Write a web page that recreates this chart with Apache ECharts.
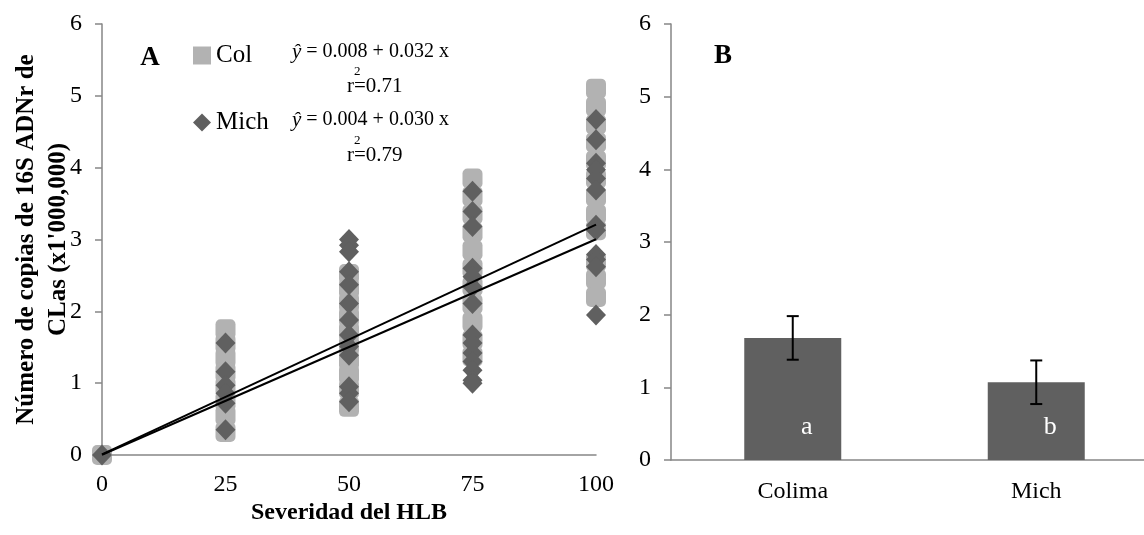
<!DOCTYPE html>
<html>
<head>
<meta charset="utf-8">
<script src="https://cdn.jsdelivr.net/npm/echarts@6/dist/echarts.min.js"></script>
<style>
html,body{margin:0;padding:0;background:#fff;}
#chart{width:1144px;height:535px;}
</style>
</head>
<body>
<div id="chart"></div>
<script>
// ---- Data ----
const severityTicks = [0, 25, 50, 75, 100];
// Colima samples: [severity, copies x1'000,000]
const colPoints = [
  [0, 0],
  [25, 1.75], [25, 1.55], [25, 1.35], [25, 1.15], [25, 0.95], [25, 0.75], [25, 0.55], [25, 0.32],
  [50, 2.52], [50, 2.32], [50, 2.12], [50, 1.92], [50, 1.72], [50, 1.52], [50, 1.32], [50, 1.12], [50, 0.92], [50, 0.67],
  [75, 3.85], [75, 3.60], [75, 3.35], [75, 3.10], [75, 2.85], [75, 2.60], [75, 2.35], [75, 2.10], [75, 1.85], [75, 1.60], [75, 1.37],
  [100, 5.10], [100, 4.85], [100, 4.60], [100, 4.35], [100, 4.10], [100, 3.85], [100, 3.60], [100, 3.35], [100, 3.13], [100, 2.69], [100, 2.45], [100, 2.20]
];
// Michoacán samples
const michPoints = [
  [0, 0],
  [25, 1.56], [25, 1.16], [25, 0.97], [25, 0.86], [25, 0.72], [25, 0.35],
  [50, 3.00], [50, 2.92], [50, 2.83], [50, 2.55], [50, 2.37], [50, 2.11], [50, 1.88], [50, 1.67], [50, 1.51], [50, 1.39], [50, 0.95], [50, 0.86], [50, 0.74],
  [75, 3.67], [75, 3.39], [75, 3.18], [75, 2.60], [75, 2.48], [75, 2.34], [75, 2.11], [75, 1.67], [75, 1.56], [75, 1.42], [75, 1.30], [75, 1.18], [75, 1.04], [75, 1.00],
  [100, 4.67], [100, 4.39], [100, 4.06], [100, 3.97], [100, 3.85], [100, 3.69], [100, 3.20], [100, 3.13], [100, 2.79], [100, 2.72], [100, 2.62], [100, 1.95]
];
// Fitted regression lines (endpoints of the printed equations)
const colFit = [[0, 0.008], [100, 3.208]];
const michFit = [[0, 0.004], [100, 3.004]];
const colEquation = ' = 0.008 + 0.032 x';
const michEquation = ' = 0.004 + 0.030 x';
const colR2 = '=0.71';
const michR2 = '=0.79';

// Panel B
const regions = ['Colima', 'Mich'];
const regionMeans = [1.68, 1.07];
const regionErrors = [0.30, 0.30];
const regionLetters = ['a', 'b'];

// ---- Styling ----
const FONT = '"Liberation Serif", "Times New Roman", serif';
const AXIS_COLOR = '#868686';
const COL_COLOR = '#b2b2b2';
const MICH_COLOR = '#606060';

const chart = echarts.init(document.getElementById('chart'), null, {renderer: 'canvas'});

const axisLine = {show: true, lineStyle: {color: AXIS_COLOR, width: 1.5}};
const tickLabel = {color: '#000', fontFamily: FONT, fontSize: 24};

const option = {
  backgroundColor: '#fff',
  animation: false,
  textStyle: {fontFamily: FONT},
  grid: [
    {left: 102, top: 24, width: 494, height: 431, containLabel: false, outerBoundsMode: 'none'},
    {left: 671, top: 24, width: 487, height: 436, containLabel: false, outerBoundsMode: 'none'}
  ],
  xAxis: [
    {
      gridIndex: 0, type: 'value', min: 0, max: 100, interval: 25,
      axisLine: axisLine, axisTick: {show: false}, splitLine: {show: false},
      axisLabel: Object.assign({margin: 18}, tickLabel),
      name: 'Severidad del HLB', nameLocation: 'middle', nameGap: 46, nameMoveOverlap: false,
      nameTextStyle: {color: '#000', fontFamily: FONT, fontSize: 24, fontWeight: 'bold'}
    },
    {
      gridIndex: 1, type: 'category', data: regions,
      axisLine: axisLine, axisTick: {show: false}, splitLine: {show: false},
      axisLabel: Object.assign({margin: 20}, tickLabel)
    }
  ],
  yAxis: [
    {
      gridIndex: 0, type: 'value', min: 0, max: 6, interval: 1,
      axisLine: axisLine,
      axisTick: {show: true, length: 7, lineStyle: {color: AXIS_COLOR, width: 1.5}},
      splitLine: {show: false},
      axisLabel: Object.assign({margin: 20}, tickLabel),
      name: 'Número de copias de 16S ADNr de\nCLas (x1\'000,000)',
      nameLocation: 'middle', nameGap: 27, nameMoveOverlap: false,
      nameTextStyle: {color: '#000', fontFamily: FONT, fontSize: 25, fontWeight: 'bold', lineHeight: 32}
    },
    {
      gridIndex: 1, type: 'value', min: 0, max: 6, interval: 1,
      axisLine: axisLine,
      axisTick: {show: true, length: 7, lineStyle: {color: AXIS_COLOR, width: 1.5}},
      splitLine: {show: false},
      axisLabel: Object.assign({margin: 20}, tickLabel)
    }
  ],
  legend: {
    orient: 'vertical', left: 188, top: 38,
    itemWidth: 18, itemHeight: 18, itemGap: 42,
    textStyle: {color: '#000', fontFamily: FONT, fontSize: 25},
    data: [
      {name: 'Col', icon: 'rect'},
      {name: 'Mich', icon: 'diamond'}
    ]
  },
  series: [
    {
      name: 'Col', type: 'scatter', xAxisIndex: 0, yAxisIndex: 0,
      symbol: 'roundRect', symbolSize: 20,
      itemStyle: {color: COL_COLOR, opacity: 1},
      data: colPoints, z: 2
    },
    {
      name: 'Mich', type: 'scatter', xAxisIndex: 0, yAxisIndex: 0,
      symbol: 'diamond', symbolSize: [20, 21],
      itemStyle: {color: MICH_COLOR, opacity: 1},
      data: michPoints, z: 3
    },
    {
      name: 'ColFit', type: 'line', xAxisIndex: 0, yAxisIndex: 0,
      data: colFit, symbol: 'none', silent: true,
      lineStyle: {color: '#000', width: 2}, z: 4
    },
    {
      name: 'MichFit', type: 'line', xAxisIndex: 0, yAxisIndex: 0,
      data: michFit, symbol: 'none', silent: true,
      lineStyle: {color: '#000', width: 2}, z: 4
    },
    {
      name: 'Media', type: 'bar', xAxisIndex: 1, yAxisIndex: 1,
      data: regionMeans, barWidth: 97,
      itemStyle: {color: MICH_COLOR},
      label: {
        show: true, position: 'insideBottom', distance: 20, offset: [14, 0],
        color: '#fff', fontFamily: FONT, fontSize: 26,
        formatter: function (p) { return regionLetters[p.dataIndex]; }
      }
    },
    {
      name: 'Error', type: 'custom', xAxisIndex: 1, yAxisIndex: 1,
      data: regionMeans.map(function (m, i) { return [i, m, regionErrors[i]]; }),
      z: 5,
      renderItem: function (params, api) {
        var x = api.value(0), m = api.value(1), e = api.value(2);
        var hi = api.coord([x, m + e]);
        var lo = api.coord([x, m - e]);
        var cap = 6;
        var st = {stroke: '#000', lineWidth: 2};
        return {
          type: 'group',
          children: [
            {type: 'line', shape: {x1: hi[0], y1: hi[1], x2: lo[0], y2: lo[1]}, style: st},
            {type: 'line', shape: {x1: hi[0] - cap, y1: hi[1], x2: hi[0] + cap, y2: hi[1]}, style: st},
            {type: 'line', shape: {x1: lo[0] - cap, y1: lo[1], x2: lo[0] + cap, y2: lo[1]}, style: st}
          ]
        };
      }
    }
  ],
  graphic: [
    {type: 'text', x: 150, y: 58, style: {text: 'A', font: 'bold 27px ' + FONT, fill: '#000', align: 'center', verticalAlign: 'middle'}},
    {type: 'text', x: 723, y: 56, style: {text: 'B', font: 'bold 27px ' + FONT, fill: '#000', align: 'center', verticalAlign: 'middle'}},
    {type: 'text', x: 292, y: 52, style: {
      text: '{i|ŷ}{n|' + colEquation + '}', verticalAlign: 'middle', fill: '#000',
      rich: {i: {fontFamily: FONT, fontSize: 21, fontStyle: 'italic', fill: '#000'}, n: {fontFamily: FONT, fontSize: 20, fill: '#000'}}
    }},
    {type: 'text', x: 347, y: 86, style: {text: 'r' + colR2, font: '21px ' + FONT, fill: '#000', verticalAlign: 'middle'}},
    {type: 'text', x: 354, y: 72, style: {text: '2', font: '13px ' + FONT, fill: '#000', verticalAlign: 'middle'}},
    {type: 'text', x: 292, y: 120, style: {
      text: '{i|ŷ}{n|' + michEquation + '}', verticalAlign: 'middle', fill: '#000',
      rich: {i: {fontFamily: FONT, fontSize: 21, fontStyle: 'italic', fill: '#000'}, n: {fontFamily: FONT, fontSize: 20, fill: '#000'}}
    }},
    {type: 'text', x: 347, y: 155, style: {text: 'r' + michR2, font: '21px ' + FONT, fill: '#000', verticalAlign: 'middle'}},
    {type: 'text', x: 354, y: 141, style: {text: '2', font: '13px ' + FONT, fill: '#000', verticalAlign: 'middle'}}
  ]
};

chart.setOption(option);
</script>
</body>
</html>
